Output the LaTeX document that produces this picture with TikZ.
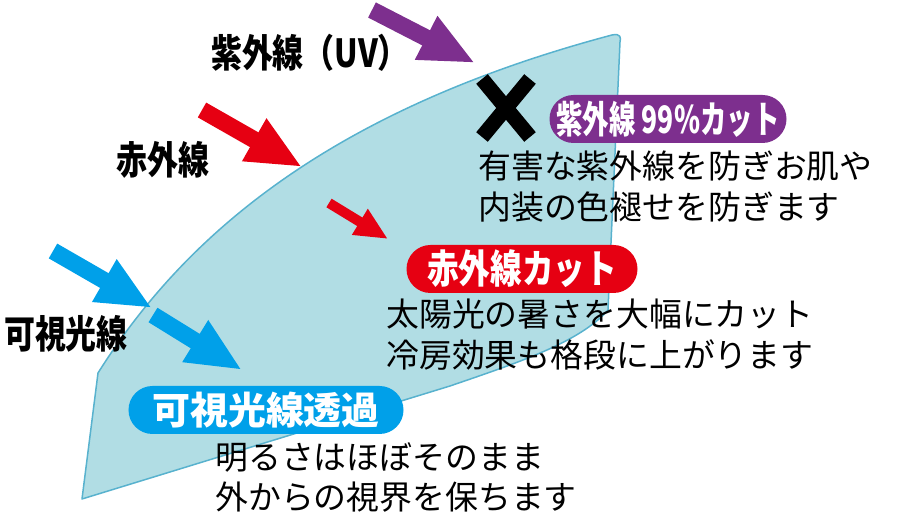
\documentclass[tikz,border=0pt]{standalone}
\usepackage{fontspec}
\newfontfamily\jpfont{Noto Sans CJK JP}
\newfontfamily\jpnarrow{Noto Sans CJK JP}[FakeStretch=0.8]
\newfontfamily\jpslim{Noto Sans CJK JP}[FakeStretch=0.7]
\usepackage{tikz}
\usetikzlibrary{positioning,arrows.meta}
\definecolor{glassfill}{RGB}{177,221,228}
\definecolor{glassline}{RGB}{88,178,206}
\definecolor{uvpurple}{RGB}{125,47,142}
\definecolor{irred}{RGB}{230,0,18}
\definecolor{visblue}{RGB}{0,160,233}

\begin{document}
\begin{tikzpicture}[x=0.2mm,y=-0.2mm,
    ray/.style={line width=3.4mm,-{Triangle[length=11mm,width=9mm]}},
    smallray/.style={line width=2mm,-{Triangle[length=6.6mm,width=5.6mm]}},
    pill/.style={rounded corners=4.8mm,minimum height=9.6mm,inner sep=0pt,text=white},
    caption/.style={font=\jpnarrow\bfseries\fontsize{22}{26}\selectfont,inner sep=0pt},
    body/.style={font=\jpfont\fontsize{18.7}{22.8}\selectfont,align=left,inner sep=0pt,anchor=north west}]
  \useasboundingbox (0,0) rectangle (900,528);

  % window glass
  \draw[glassline,fill=glassfill,line width=0.3mm,line join=round]
    (82,499) -- (98,373) .. controls (185,235) and (330,110) .. (612,35)
    .. controls (621,33) and (621,38) .. (620,42) -- (608,310)
    .. controls (580,342) and (520,362) .. (450,386) -- cycle;

  % ray labels
  \node[caption] (uvname) at (310,53) {紫外線（UV）};
  \node[caption] (irname) at (163,160) {赤外線};
  \node[caption] (visname) at (66,334) {可視光線};

  % incoming and passing rays
  \coordinate (uvtail) at (372,10);
  \coordinate (uvtip) at (475,63);
  \coordinate (irtail) at (202,110);
  \coordinate (irtip) at (302,167);
  \coordinate (irintail) at (329,203);
  \coordinate (irintip) at (388,239);
  \coordinate (vistail) at (53,251);
  \coordinate (vistip) at (152,308);
  \coordinate (visintail) at (153,315);
  \coordinate (visintip) at (242,370);
  \draw[ray,uvpurple] (uvtail) -- (uvtip);
  \draw[ray,irred] (irtail) -- (irtip);
  \draw[smallray,irred] (irintail) -- (irintip);
  \draw[ray,visblue] (vistail) -- (vistip);
  \draw[ray,visblue] (visintail) -- (visintip);

  % blocked mark
  \draw[line width=3mm] (482,79) -- (530,137) (530,79) -- (482,137);

  % result tags
  \node[pill,fill=uvpurple,minimum width=47.4mm,font=\jpslim\bfseries\fontsize{21.5}{26}\selectfont] (uvcut) at (668,119) {紫外線 99\%カット};
  \node[pill,fill=irred,minimum width=46.2mm,font=\jpnarrow\bfseries\fontsize{22.5}{26}\selectfont] (ircut) at (522,269) {赤外線カット};
  \node[pill,fill=visblue,minimum width=55mm,font=\jpfont\bfseries\fontsize{21.6}{24}\selectfont] (vispass) at (266,410) {可視光線透過};

  \node[body] (uvtext) at (478,151) {有害な紫外線を防ぎお肌や\\内装の色褪せを防ぎます};
  \node[body] (irtext) at (386,299) {太陽光の暑さを大幅にカット\\冷房効果も格段に上がります};
  \node[body] (vistext) at (215,442) {明るさはほぼそのまま\\外からの視界を保ちます};
\end{tikzpicture}
\end{document}
